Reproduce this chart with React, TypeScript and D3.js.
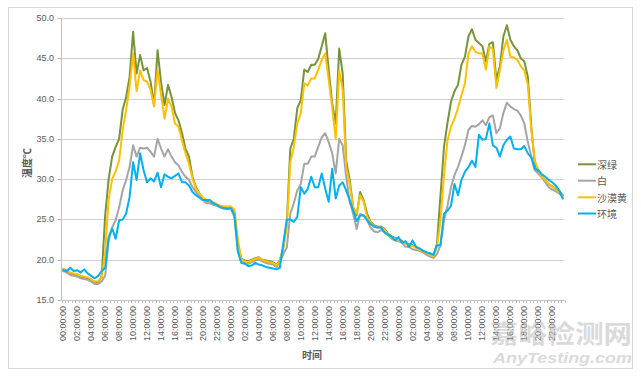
import React from "react";
import * as d3 from "d3";

// ---- data (30-minute readings over three days) ----
const seriesNames = ["深绿", "白", "沙漠黄", "环境"];
const seriesColors = ["#77933C", "#A5A5A5", "#FFC000", "#00B0F0"];

const green = [
  18.8, 18.6, 18.3, 18.2, 18.1, 17.9, 17.8, 17.7, 17.5, 17.2, 17.2, 17.9,
  25.5, 30.0, 32.8, 34.0, 35.0, 38.6, 40.2, 42.7, 48.3,
  43.1, 45.4, 43.5, 43.8, 42.1, 39.2, 46.0, 42.0, 39.2, 41.7,
  40.2, 38.2, 37.3, 35.7, 33.8, 32.8, 30.3, 29.0, 28.2, 27.6,
  27.3, 27.2, 27.0, 26.8, 26.6, 26.5, 26.5, 26.4, 25.8, 21.8,
  20.1, 19.9, 19.8, 20.0, 20.2, 20.3, 20.0, 19.9, 19.8, 19.7, 19.4, 19.9,
  21.5, 24.5, 33.8, 35.0, 38.8, 39.8, 43.6, 43.3,
  44.2, 44.2, 44.9, 46.5, 48.1, 43.5, 39.4, 36.9, 46.2, 43.1,
  32.3, 29.9, 26.5, 25.5, 28.4, 27.4, 25.7, 24.7, 24.3, 24.1,
  24.1, 23.8, 23.2, 22.9, 22.7, 22.6, 22.3, 22.1, 21.9, 21.8,
  21.6, 21.3, 21.1, 20.9, 20.7, 20.5,
  22.0, 28.0, 34.0, 37.0, 39.6, 40.9, 41.7, 44.2, 45.2, 47.7,
  48.6, 47.3, 46.9, 46.5, 44.6, 46.8, 47.0, 42.3, 44.0, 47.7,
  49.1, 47.3, 46.5, 46.0, 45.0, 44.6, 42.7, 36.5, 31.9, 30.9,
  30.3, 29.9, 29.4, 29.1, 28.8, 28.5, 28.0,
];

const white = [
  18.6, 18.4, 18.1, 18.0, 17.9, 17.7, 17.6, 17.5, 17.3, 17.0, 17.0, 17.3,
  18.0, 22.4, 24.0, 24.9, 26.5, 28.6, 29.9, 31.5, 34.2,
  32.8, 33.9, 33.8, 33.9, 33.4, 32.8, 35.0, 33.8, 32.8, 33.7,
  32.8, 32.1, 31.7, 30.9, 30.3, 29.9, 29.0, 28.4, 27.8, 27.4,
  27.0, 27.0, 26.8, 26.7, 26.5, 26.3, 26.4, 26.3, 25.3, 21.1,
  19.8, 19.6, 19.5, 19.7, 19.9, 20.0, 19.8, 19.6, 19.5, 19.4, 19.1, 19.6,
  20.7, 21.5, 25.7, 27.0, 28.6, 29.4, 31.9, 31.9,
  32.8, 32.8, 34.0, 35.2, 35.7, 34.6, 33.2, 30.7, 35.0, 34.2,
  30.3, 27.2, 25.7, 23.8, 25.7, 25.5, 24.9, 24.0, 23.5, 23.4,
  23.7, 23.4, 23.0, 22.6, 22.4, 22.3, 22.1, 21.6, 21.6, 21.3,
  21.2, 21.1, 20.9, 20.6, 20.4, 20.2,
  20.7, 21.8, 24.9, 26.7, 29.0, 30.5, 31.5, 32.8, 34.2, 36.1,
  36.6, 36.5, 36.8, 37.3, 36.7, 37.7, 37.9, 35.7, 36.3, 38.2,
  39.5, 39.0, 38.7, 38.5, 37.9, 36.9, 34.6, 32.8, 31.1, 30.7,
  30.2, 29.6, 29.0, 28.7, 28.5, 28.2, 27.8,
];

const yellow = [
  18.9, 18.7, 18.4, 18.3, 18.2, 18.0, 17.9, 17.8, 17.6, 17.3, 17.3, 17.8,
  21.0, 27.5, 30.0, 31.0, 32.3, 36.1, 38.6, 41.5, 45.6,
  40.9, 43.5, 42.3, 42.1, 41.1, 39.0, 43.5, 40.5, 37.5, 40.0,
  39.0, 36.9, 36.5, 34.8, 33.2, 31.9, 30.1, 28.8, 28.2, 27.7,
  27.4, 27.3, 27.1, 26.9, 26.7, 26.6, 26.6, 26.6, 26.2, 22.5,
  20.0, 19.8, 19.7, 19.9, 20.1, 20.25, 20.0, 19.8, 19.7, 19.6, 19.3, 19.8,
  21.5, 24.0, 32.1, 34.0, 36.9, 38.2, 41.9, 41.6,
  42.5, 42.5, 43.6, 44.8, 45.6, 42.3, 38.8, 35.0, 43.5, 41.1,
  31.5, 29.4, 26.5, 25.7, 28.0, 27.2, 25.3, 24.6, 24.2, 24.0,
  24.0, 23.7, 23.1, 22.8, 22.6, 22.5, 22.2, 22.0, 21.8, 21.7,
  21.5, 21.2, 21.0, 20.8, 20.6, 20.4,
  21.6, 24.9, 30.5, 34.8, 36.5, 37.5, 38.8, 40.4, 41.9, 45.6,
  46.5, 45.8, 45.6, 45.6, 43.6, 46.5, 46.1, 41.3, 43.5, 46.0,
  47.3, 45.2, 45.1, 44.8, 44.0, 43.5, 41.7, 36.1, 32.3, 31.1,
  30.3, 29.9, 29.4, 29.1, 28.8, 28.4, 28.0,
];

const ambient = [
  18.7, 18.6, 19.0, 18.6, 18.7, 18.4, 18.8, 18.3, 18.0, 17.7, 18.0, 18.6,
  19.0, 22.8, 23.9, 22.6, 24.9, 25.0, 25.7, 27.8, 32.1,
  29.9, 33.2, 31.1, 29.6, 30.1, 29.7, 30.8, 29.0, 30.6, 30.3,
  30.1, 30.4, 30.7, 29.6, 29.6, 29.2, 28.4, 28.0, 27.7, 27.4,
  27.4, 27.4, 27.0, 26.8, 26.5, 26.4, 26.3, 26.4, 25.6, 21.0,
  19.6, 19.5, 19.2, 19.3, 19.6, 19.4, 19.3, 19.1, 19.0, 18.9, 18.8, 19.0,
  22.0, 25.0, 25.0, 24.7, 25.3, 29.0, 28.2, 28.8,
  30.3, 29.0, 29.0, 30.7, 28.8, 27.2, 31.3, 27.6, 29.2, 29.6,
  28.6, 27.4, 26.1, 24.8, 25.5, 25.5, 24.9, 24.4, 24.1, 24.0,
  24.0, 23.4, 23.1, 22.9, 22.4, 22.8, 22.1, 22.3, 21.6, 22.4,
  21.6, 21.4, 21.1, 20.9, 20.8, 20.6,
  21.8, 21.8, 25.7, 26.1, 26.7, 29.4, 28.0, 29.9, 30.9, 31.5,
  32.3, 31.5, 35.5, 34.9, 35.0, 36.9, 34.2, 33.9, 32.8, 34.2,
  34.9, 35.3, 33.8, 33.7, 33.7, 34.1, 33.2, 32.7, 31.3, 31.1,
  30.6, 30.3, 29.9, 29.6, 29.2, 28.6, 27.6,
];

const yTicks = [15, 20, 25, 30, 35, 40, 45, 50];
const days = 3;
const slotsPerDay = 48;
const categories: string[] = [];
for (let d = 0; d < days; d++) {
  for (let s = 0; s < slotsPerDay; s++) {
    const h = Math.floor(s / 2);
    const m = s % 2 === 0 ? "00" : "30";
    categories.push(`${String(h).padStart(2, "0")}:${m}:00`);
  }
}
const labelEvery = 4;

const allSeries = [green, white, yellow, ambient];

export default function App() {
  const W = 641;
  const H = 377;
  const left = 61.5;
  const right = 564.5;
  const top = 18;
  const bottom = 300;

  const x = d3
    .scaleBand<number>()
    .domain(categories.map((_, i) => i))
    .range([left, right]);
  const bw = x.bandwidth();
  const cx = (i: number) => (x(i) as number) + bw / 2;
  const y = d3.scaleLinear().domain([15, 50]).range([bottom, top]);

  const line = d3
    .line<number>()
    .x((_, i) => cx(i))
    .y((v) => y(v));

  const tickFont = "'Liberation Sans', Arial, sans-serif";
  const cjkFont = "'Noto Sans CJK SC', sans-serif";
  const txt = "#595959";

  const legendY = [164.3, 180.7, 197.3, 213.5];

  return (
    <svg
      width={W}
      height={H}
      style={{ position: "absolute", left: 0, top: 0, background: "#fff" }}
    >
      <rect x={8.5} y={7.5} width={624} height={361} fill="#fff" stroke="#d9d9d9" />
      {/* gridlines */}
      {yTicks.map((t) => (
        <line
          key={"g" + t}
          x1={left}
          x2={right}
          y1={Math.round(y(t)) + 0.5}
          y2={Math.round(y(t)) + 0.5}
          stroke={t === 15 ? "#bfbfbf" : "#d0d0d0"}
          strokeWidth={1}
        />
      ))}
      {/* y axis */}
      <line x1={left} x2={left} y1={top} y2={bottom + 0.5} stroke="#bfbfbf" />
      {yTicks.map((t) => (
        <g key={"yt" + t}>
          <line
            x1={left - 4}
            x2={left}
            y1={Math.round(y(t)) + 0.5}
            y2={Math.round(y(t)) + 0.5}
            stroke="#bfbfbf"
          />
          <text
            x={54}
            y={y(t)}
            textAnchor="end"
            dominantBaseline="central"
            fontFamily={tickFont}
            fontSize={9}
            fill={txt}
          >
            {t.toFixed(1)}
          </text>
        </g>
      ))}
      {/* x ticks */}
      {categories.map((_, i) => (
        <line
          key={"xt" + i}
          x1={Math.round(x(i) as number) + 0.5}
          x2={Math.round(x(i) as number) + 0.5}
          y1={bottom}
          y2={bottom + 3}
          stroke="#bfbfbf"
        />
      ))}
      <line
        x1={Math.round(right) + 0.5}
        x2={Math.round(right) + 0.5}
        y1={bottom}
        y2={bottom + 3}
        stroke="#bfbfbf"
      />
      {categories.map((c, i) =>
        i % labelEvery === 0 ? (
          <text
            key={"xl" + i}
            transform={`translate(${cx(i)},${bottom + 6}) rotate(-90)`}
            textAnchor="end"
            dominantBaseline="central"
            fontFamily={tickFont}
            fontSize={9}
            fill={txt}
          >
            {c}
          </text>
        ) : null
      )}
      {/* series */}
      {allSeries.map((s, k) => (
        <path
          key={"s" + k}
          d={line(s) || ""}
          fill="none"
          stroke={seriesColors[k]}
          strokeWidth={2}
          strokeLinejoin="round"
          strokeLinecap="round"
        />
      ))}
      {/* axis titles */}
      <text
        transform="translate(26,163) rotate(-90)"
        textAnchor="middle"
        dominantBaseline="central"
        fontFamily={cjkFont}
        fontWeight="bold"
        fontSize={10}
        fill={txt}
      >
        温度℃
      </text>
      <text
        x={312}
        y={354}
        textAnchor="middle"
        dominantBaseline="central"
        fontFamily={cjkFont}
        fontWeight="bold"
        fontSize={10}
        fill={txt}
      >
        时间
      </text>
      {/* legend */}
      {seriesNames.map((n, k) => (
        <g key={"lg" + k}>
          <line
            x1={578}
            x2={596}
            y1={legendY[k]}
            y2={legendY[k]}
            stroke={seriesColors[k]}
            strokeWidth={2}
          />
          <text
            x={597}
            y={legendY[k]}
            dominantBaseline="central"
            fontFamily={cjkFont}
            fontSize={10}
            fill={txt}
          >
            {n}
          </text>
        </g>
      ))}
      {/* watermark */}
      <g opacity={0.55}>
        <text
          x={490}
          y={343}
          fontFamily={cjkFont}
          fontWeight="bold"
          fontSize={25}
          fill="#bdbdbd"
          textLength={142}
          lengthAdjust="spacingAndGlyphs"
        >
          嘉峪检测网
        </text>
        <text
          x={493}
          y={363}
          fontFamily={tickFont}
          fontStyle="italic"
          fontWeight="bold"
          fontSize={14}
          fill="#bdbdbd"
          textLength={139}
          lengthAdjust="spacingAndGlyphs"
        >
          AnyTesting.com
        </text>
      </g>
    </svg>
  );
}
